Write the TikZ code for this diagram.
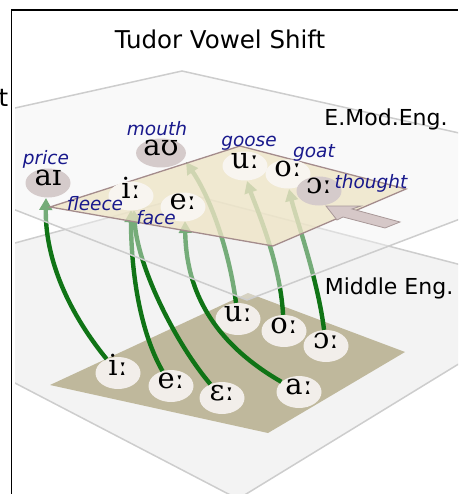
\documentclass[tikz,border=0pt]{standalone}
\usepackage{fontspec}
\setmainfont{DejaVu Sans}
\newfontfamily\ipafont{DejaVu Serif}
\usetikzlibrary{arrows.meta,shapes.geometric}
\definecolor{planefill}{HTML}{F3F3F3}
\definecolor{planeedge}{HTML}{CDCDCD}
\definecolor{upfill}{HTML}{F2F2F2}
\definecolor{beige}{HTML}{EEE4C4}
\definecolor{beigeedge}{HTML}{A48C8C}
\definecolor{lowspace}{HTML}{BFB89C}
\definecolor{vgreen}{RGB}{16,116,22}
\definecolor{navy}{RGB}{25,25,140}
\definecolor{pinkgray}{HTML}{D5CBCB}
\definecolor{offwhite}{HTML}{F8F5F0}
\definecolor{lowwhite}{HTML}{F2EEEA}
\definecolor{arrfill}{HTML}{D6C8C8}
\definecolor{arredge}{HTML}{A89898}
\begin{document}
\begin{tikzpicture}[x=1pt,y=-1pt,
  vowel/.style={ellipse,inner sep=0pt,minimum width=45pt,minimum height=29pt,
     text height=0.52em,text depth=0pt,
     font=\ipafont\fontsize{29}{32}\selectfont},
  vlow/.style={vowel,fill=lowwhite,minimum height=32pt},
  vup/.style={vowel,fill=offwhite},
  vpink/.style={vowel,fill=pinkgray},
  lab/.style={inner sep=0pt,text=navy,font=\fontsize{18.5}{20}\selectfont\itshape},
  big/.style={inner sep=0pt,font=\fontsize{22}{26}\selectfont},
  garrow/.style={draw=vgreen,line width=4.4pt,-{Triangle[length=12pt,width=12.5pt]}},
]
\useasboundingbox (0,0) rectangle (458,494);
\begin{scope}
\clip (15,11) rectangle (458,494);
% lower plane
\filldraw[fill=planefill,draw=planeedge,line width=1.5pt]
  (192,195) -- (573,294) -- (238,499) -- (-162,291) -- cycle;
% lower vowel space
\fill[lowspace] (50,385) -- (248,293) -- (405,352) -- (268,433) -- cycle;
\end{scope}
% lower vowels
\node[vlow] (mi) at (118,373) {iː};
\node[vlow] (me) at (171,386) {eː};
\node[vlow] (mE) at (222,398) {ɛː};
\node[vlow] (ma) at (299,392) {aː};
\node[vlow] (mu) at (238,319) {uː};
\node[vlow] (mo) at (284,331) {oː};
\node[vlow] (mO) at (326,346) {ɔː};
% green arrows
\coordinate (tprice) at (46,198);
\coordinate (tfleeceA) at (131,210);
\coordinate (tfleeceB) at (134,210);
\coordinate (tface) at (185,221);
\coordinate (tmouth) at (186,162);
\coordinate (tgoose) at (247,181);
\coordinate (tgoat) at (289,189);
\draw[garrow] (mi) .. controls (65,308) and (45,255) .. (tprice);
\draw[garrow] (me) .. controls (138,328) and (131,265) .. (tfleeceA);
\draw[garrow] (mE) .. controls (174,341) and (137,265) .. (tfleeceB);
\draw[garrow] (ma) .. controls (200,335) and (186,275) .. (tface);
\draw[garrow] (mu) .. controls (230,255) and (212,200) .. (tmouth);
\draw[garrow] (mo) .. controls (280,260) and (255,205) .. (tgoose);
\draw[garrow] (mO) .. controls (318,280) and (295,215) .. (tgoat);
% upper plane
\begin{scope}
\clip (15,11) rectangle (458,494);
\filldraw[fill=upfill,fill opacity=0.45,draw=planeedge,line width=1.5pt]
  (182,71) -- (602,165) -- (247,300) -- (-152,145) -- cycle;
\end{scope}
% upper vowel space
\filldraw[fill=beige,fill opacity=0.75,draw=beigeedge,line width=1.3pt]
  (50,207) -- (240,146) -- (406,189) -- (273,246) -- cycle;
% grey block arrow
\filldraw[fill=arrfill,draw=arredge,line width=0.8pt]
  (326,206) -- (361,206) -- (352,209) -- (400,222) -- (385,228) -- (343,217) -- (337,220) -- cycle;
% upper vowels
\node[vpink] (price) at (48,183) {aɪ};
\node[vpink] (mouth) at (161,153) {aʊ};
\node[vup] (fleece) at (131,196) {iː};
\node[vup] (face) at (183,207) {eː};
\node[vup] (goose) at (245,166) {uː};
\node[vup] (goat) at (288,174) {oː};
\node[vpink] (thought) at (319,191) {ɔː};
% labels
\node[lab] (lprice) at (46,159) {price};
\node[lab] (lmouth) at (157,129) {mouth};
\node[lab] (lfleece) at (95,204) {fleece};
\node[lab] (lface) at (156,218) {face};
\node[lab] (lgoose) at (249,143) {goose};
\node[lab] (lgoat) at (314,153) {goat};
\node[lab] (lthought) at (371,183) {thought};
\node[big,anchor=base] (emod) at (386,126) {E.Mod.Eng.};
\node[big,anchor=base] (mid) at (389,294) {Middle Eng.};
\node[inner sep=0pt,anchor=base,font=\fontsize{24.5}{28}\selectfont] (title) at (220,49) {Tudor Vowel Shift};
\node[inner sep=0pt,anchor=base east,font=\fontsize{24.5}{28}\selectfont] (tcut) at (8.5,107) {t};
% frame
\draw[black,line width=1.3pt] (11.5,494) -- (11.5,10) -- (458,10);
\end{tikzpicture}
\end{document}
